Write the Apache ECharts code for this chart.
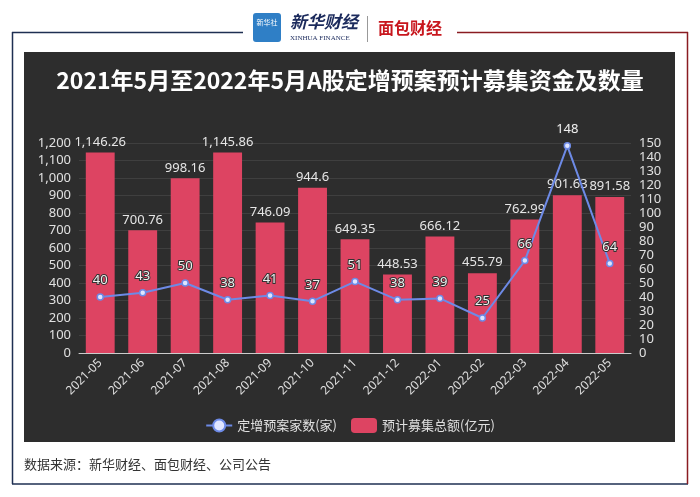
<!DOCTYPE html>
<html>
<head>
<meta charset="utf-8">
<script src="https://cdn.jsdelivr.net/npm/echarts@6/dist/echarts.min.js"></script>
<style>html,body{margin:0;padding:0;background:#fff}#c{width:700px;height:497px}</style>
</head>
<body>
<div id="c"></div>
<script>
const categories = ['2021-05','2021-06','2021-07','2021-08','2021-09','2021-10','2021-11','2021-12','2022-01','2022-02','2022-03','2022-04','2022-05'];
const amountValues = [1146.26, 700.76, 998.16, 1145.86, 746.09, 944.6, 649.35, 448.53, 666.12, 455.79, 762.99, 901.63, 891.58];
const countValues = [40, 43, 50, 38, 41, 37, 51, 38, 39, 25, 66, 148, 64];
const leftTicks = {min: 0, max: 1200, interval: 100};
const rightTicks = {min: 0, max: 150, interval: 10};
const titleText = '2021年5月至2022年5月A股定增预案预计募集资金及数量';
const sourceText = '数据来源：新华财经、面包财经、公司公告';
const seriesNames = ['定增预案家数(家)', '预计募集总额(亿元)'];

function commas(v){
  const s = String(v).split('.');
  s[0] = s[0].replace(/\B(?=(\d{3})+(?!\d))/g, ',');
  return s.join('.');
}
const FONT = "'Noto Sans', 'Noto Sans CJK SC', sans-serif";
const chart = echarts.init(document.getElementById('c'));
chart.setOption({
  backgroundColor: '#ffffff',
  textStyle: {fontFamily: FONT},
  animation: false,
  graphic: [
    // outer frame
    {type: 'line', shape: {x1: 12, y1: 32.5, x2: 243, y2: 32.5}, style: {stroke: '#1e2f52', lineWidth: 1.5}},
    {type: 'line', shape: {x1: 12.5, y1: 32, x2: 12.5, y2: 484}, style: {stroke: '#1e2f52', lineWidth: 1.5}},
    {type: 'line', shape: {x1: 12, y1: 484, x2: 688, y2: 484}, style: {stroke: '#1e2f52', lineWidth: 1.5}},
    {type: 'line', shape: {x1: 457, y1: 32.5, x2: 688, y2: 32.5}, style: {stroke: '#8a1c22', lineWidth: 1.5}},
    {type: 'line', shape: {x1: 687.5, y1: 32, x2: 687.5, y2: 484}, style: {stroke: '#8a1c22', lineWidth: 1.5}},
    // dark panel
    {type: 'rect', z: -10, shape: {x: 24, y: 52, width: 651, height: 390}, style: {fill: '#2d2d2d'}},
    // logo block
    {type: 'rect', shape: {x: 253, y: 13, width: 28, height: 29, r: 3}, style: {fill: '#2f7fc6'}},
    {type: 'text', style: {x: 267, y: 22, text: '新华社', fill: '#fff', font: '7px "Noto Sans CJK SC"', align: 'center', verticalAlign: 'middle'}},
    {type: 'text', style: {x: 290, y: 22, text: '新华财经', fill: '#1b2a5c', font: 'italic bold 17px "Noto Sans CJK SC"', verticalAlign: 'middle'}},
    {type: 'text', style: {x: 290, y: 38, text: 'XINHUA FINANCE', fill: '#1b2a5c', font: '7px "Liberation Serif"', verticalAlign: 'middle'}},
    {type: 'line', shape: {x1: 367.5, y1: 16, x2: 367.5, y2: 42}, style: {stroke: '#999', lineWidth: 1}},
    {type: 'text', style: {x: 378, y: 28, text: '面包财经', fill: '#c8161d', font: 'bold 16px "Noto Sans CJK SC"', verticalAlign: 'middle'}},
    // title
    {type: 'text', style: {x: 350, y: 80, text: titleText, fill: '#ffffff', font: 'bold 23px "Noto Sans CJK SC"', align: 'center', verticalAlign: 'middle'}},
    // source
    {type: 'text', style: {x: 24, y: 464, text: sourceText, fill: '#333333', font: '13px "Noto Sans CJK SC"', verticalAlign: 'middle'}}
  ],
  grid: {left: 79, right: 69, top: 143, bottom: 144},
  legend: {
    data: seriesNames,
    top: 413,
    left: 'center',
    itemWidth: 26,
    itemHeight: 15,
    itemGap: 14,
    textStyle: {color: '#e0e0e0', fontSize: 13, fontFamily: "'Noto Sans CJK SC', sans-serif"}
  },
  xAxis: {
    type: 'category',
    data: categories,
    axisLine: {lineStyle: {color: '#cccccc'}},
    axisTick: {lineStyle: {color: '#cccccc'}},
    axisLabel: {color: '#e0e0e0', fontSize: 12, rotate: 45, interval: 0}
  },
  yAxis: [
    {
      type: 'value', min: leftTicks.min, max: leftTicks.max, interval: leftTicks.interval,
      axisLine: {show: false}, axisTick: {show: false},
      axisLabel: {color: '#e0e0e0', fontSize: 13, formatter: v => commas(v)},
      splitLine: {lineStyle: {color: '#3f3f3f'}}
    },
    {
      type: 'value', min: rightTicks.min, max: rightTicks.max, interval: rightTicks.interval,
      axisLine: {show: false}, axisTick: {show: false},
      axisLabel: {color: '#e0e0e0', fontSize: 13},
      splitLine: {show: false}
    }
  ],
  series: [
    {
      name: seriesNames[0], type: 'line', yAxisIndex: 1, data: countValues, z: 5,
      symbol: 'circle', symbolSize: 6,
      lineStyle: {color: '#6d8ae6', width: 2},
      itemStyle: {color: '#dfe5ff', borderColor: '#6d8ae6', borderWidth: 1.5},
      label: {show: true, position: 'top', distance: 6, color: '#f0f0f0', fontSize: 13, textBorderColor: '#333', textBorderWidth: 2}
    },
    {
      name: seriesNames[1], type: 'bar', yAxisIndex: 0, data: amountValues, barWidth: '68%',
      itemStyle: {color: '#dd4462'},
      label: {show: true, position: 'top', distance: 4, color: '#e6e6e6', fontSize: 13, formatter: p => commas(p.value)}
    }
  ]
});
</script>
</body>
</html>
